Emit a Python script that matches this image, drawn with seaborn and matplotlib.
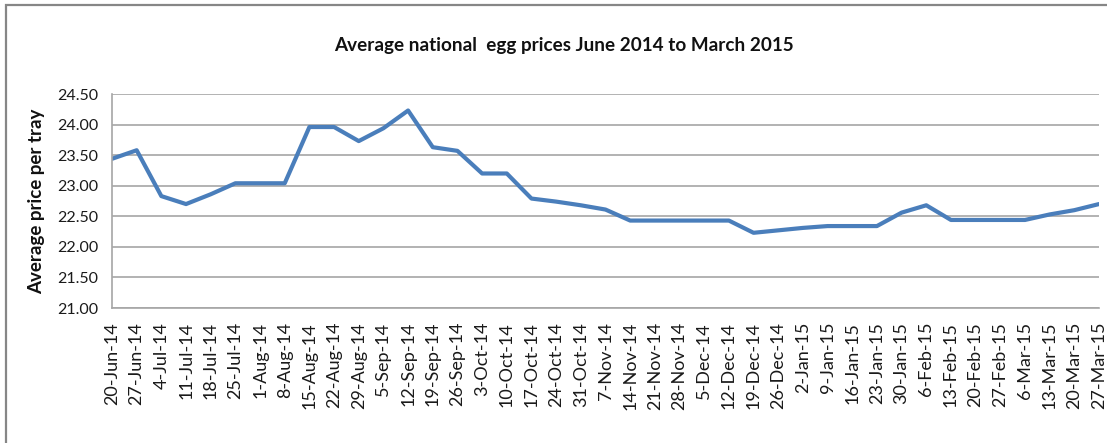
import matplotlib
matplotlib.use("Agg")
import matplotlib.pyplot as plt
import matplotlib.patches as mpatches
import seaborn as sns
import pandas as pd

# Weekly dates (category labels on x axis)
WEEKS = [
    "20-Jun-14", "27-Jun-14", "4-Jul-14", "11-Jul-14", "18-Jul-14", "25-Jul-14",
    "1-Aug-14", "8-Aug-14", "15-Aug-14", "22-Aug-14", "29-Aug-14", "5-Sep-14",
    "12-Sep-14", "19-Sep-14", "26-Sep-14", "3-Oct-14", "10-Oct-14", "17-Oct-14",
    "24-Oct-14", "31-Oct-14", "7-Nov-14", "14-Nov-14", "21-Nov-14", "28-Nov-14",
    "5-Dec-14", "12-Dec-14", "19-Dec-14", "26-Dec-14", "2-Jan-15", "9-Jan-15",
    "16-Jan-15", "23-Jan-15", "30-Jan-15", "6-Feb-15", "13-Feb-15", "20-Feb-15",
    "27-Feb-15", "6-Mar-15", "13-Mar-15", "20-Mar-15", "27-Mar-15",
]

# Average price per tray
PRICES = [
    23.44, 23.58, 22.83, 22.70, 22.86, 23.04, 23.04, 23.04, 23.96, 23.96,
    23.73, 23.94, 24.23, 23.63, 23.57, 23.20, 23.20, 22.79, 22.74, 22.68,
    22.61, 22.43, 22.43, 22.43, 22.43, 22.43, 22.23, 22.27, 22.31, 22.34,
    22.34, 22.34, 22.56, 22.68, 22.44, 22.44, 22.44, 22.44, 22.53, 22.60,
    22.70,
]

Y_TICKS = [21.00, 21.50, 22.00, 22.50, 23.00, 23.50, 24.00, 24.50]

LINE_COLOR = "#4A7EBB"
GRID_COLOR = "#A6A6A6"
FONT = ["Lato", "DejaVu Sans"]

sns.set_theme(style="white")
plt.rcParams["font.family"] = FONT

df = pd.DataFrame({"Week": WEEKS, "Price": PRICES})

W, H = 1107, 443
fig = plt.figure(figsize=(W / 100, H / 100), dpi=100)
ax = fig.add_axes([112 / W, 1 - 308 / H, (1099 - 112) / W, (308 - 94) / H])

sns.lineplot(data=df, x="Week", y="Price", ax=ax, color=LINE_COLOR,
             linewidth=3.0, sort=False)

ax.set_xlim(0, len(WEEKS) - 1)
ax.set_ylim(Y_TICKS[0], Y_TICKS[-1])
ax.set_yticks(Y_TICKS)
ax.set_yticklabels([f"{v:.2f}" for v in Y_TICKS], fontsize=11.5, color="#1a1a1a")
ax.set_xticks(range(len(WEEKS)))
ax.set_xticklabels(WEEKS, rotation=90, fontsize=13, color="#1a1a1a")
ax.tick_params(axis="both", length=0)
ax.tick_params(axis="y", pad=10)
ax.tick_params(axis="x", pad=10)

ax.grid(axis="y", color=GRID_COLOR, linewidth=1.2)
ax.grid(axis="x", visible=False)
for side in ["top", "right"]:
    ax.spines[side].set_visible(False)
for side in ["left", "bottom"]:
    ax.spines[side].set_color(GRID_COLOR)
    ax.spines[side].set_linewidth(1.2)

ax.set_xlabel("")
ax.set_ylabel("Average price per tray", fontsize=13.5, fontweight="bold", color="#111111")
ax.yaxis.set_label_coords(-0.068, 0.5)

fig.text(564 / W, 1 - 45 / H, "Average national  egg prices June 2014 to March 2015",
         ha="center", va="center", fontsize=13.6, fontweight="bold", color="#111111")

# Chart-area frame (only the left and top edges show in the crop)
frame = mpatches.Rectangle((6 / W, -0.1), 1.2, 1 - 5 / H + 0.1, transform=fig.transFigure,
                           fill=False, edgecolor="#868686", linewidth=1.6)
fig.patches.append(frame)

fig.savefig("out.png", dpi=100)
